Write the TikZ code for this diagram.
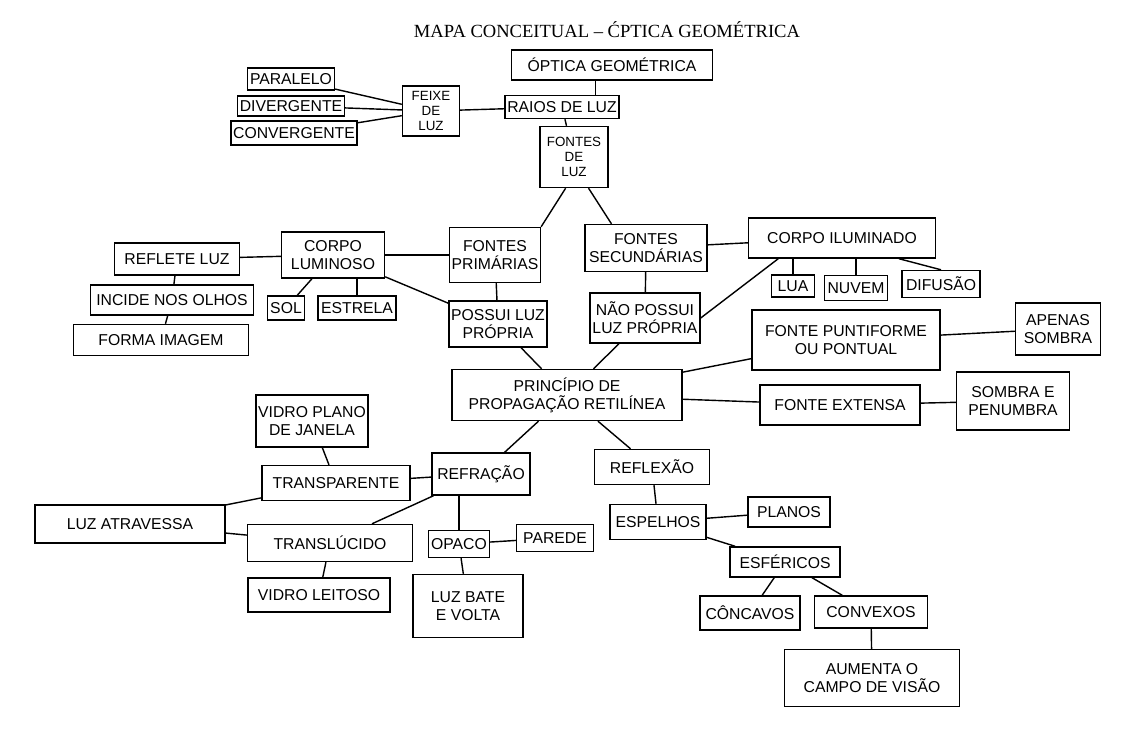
\documentclass[tikz,border=0pt]{standalone}
\usepackage{fontspec}
\setmainfont{Liberation Serif}
\newfontfamily\handfont{Liberation Sans}
\begin{document}
\begin{tikzpicture}[x=0.025cm, y=-0.025cm, line width=1pt,
    box/.style={draw, align=center, inner sep=1.5pt,
        font=\handfont\fontsize{11.2}{13}\selectfont},
    small/.style={font=\handfont\fontsize{9.5}{10.8}\selectfont},
    dim/.style args={#1/#2}{minimum width=#1*0.025cm, minimum height=#2*0.025cm}]
    \useasboundingbox (0,0) rectangle (1130,740);
    \node (titulo) at (607,30) {\fontsize{13.2}{15}\selectfont MAPA CONCEITUAL – ĆPTICA GEOMÉTRICA};

    % topo
    \node[box, dim=201/30] (optica) at (612,65) {ÓPTICA GEOMÉTRICA};
    \node[box, dim=90/23] (raios) at (562,107) {RAIOS DE LUZ};
    \node[box, small, dim=57/50] (feixe) at (431,111) {FEIXE\\DE\\LUZ};
    \node[box, dim=87/22] (paralelo) at (291,79) {PARALELO};
    \node[box, dim=107/20] (divergente) at (291,106) {DIVERGENTE};
    \node[box, dim=124/24] (convergente) at (294,133) {CONVERGENTE};
    \node[box, small, dim=68/61] (fontes) at (574,157) {FONTES\\DE\\LUZ};

    % fontes
    \node[box, dim=90/55] (primarias) at (495,255) {FONTES\\PRIMÁRIAS};
    \node[box, dim=122/47] (secundarias) at (646,248) {FONTES\\SECUNDÁRIAS};
    \node[box, dim=103/46] (luminoso) at (333,255) {CORPO\\LUMINOSO};
    \node[box, dim=125/32] (reflete) at (177,259) {REFLETE LUZ};
    \node[box, dim=163/30] (incide) at (172,300) {INCIDE NOS OLHOS};
    \node[box, dim=175/31] (forma) at (161,340) {FORMA IMAGEM};
    \node[box, dim=37/24] (sol) at (286,308) {SOL};
    \node[box, dim=78/24] (estrela) at (357,308) {ESTRELA};
    \node[box, dim=93/46] (possui) at (498,324) {POSSUI LUZ\\PRÓPRIA};
    \node[box, dim=110/50] (naopossui) at (645,318) {NÃO POSSUI\\LUZ PRÓPRIA};
    \node[box, dim=187/40] (iluminado) at (842,238) {CORPO ILUMINADO};
    \node[box, dim=43/22] (lua) at (793,286) {LUA};
    \node[box, dim=63/25] (nuvem) at (856,288) {NUVEM};
    \node[box, dim=78/27] (difusao) at (941,284) {DIFUSÃO};

    % propagacao
    \node[box, dim=230/51] (principio) at (567,395) {PRINCÍPIO DE\\PROPAGAÇÃO RETILÍNEA};
    \node[box, dim=188/60] (puntiforme) at (846,340) {FONTE PUNTIFORME\\OU PONTUAL};
    \node[box, dim=85/52] (apenas) at (1058,329) {APENAS\\SOMBRA};
    \node[box, dim=160/40] (extensa) at (840,405) {FONTE EXTENSA};
    \node[box, dim=113/58] (penumbra) at (1013,401) {SOMBRA E\\PENUMBRA};

    % refracao
    \node[box, dim=98/42] (refracao) at (481,474) {REFRAÇÃO};
    \node[box, dim=148/35] (transparente) at (336,483) {TRANSPARENTE};
    \node[box, dim=109/52] (vidroplano) at (312,421) {VIDRO PLANO\\DE JANELA};
    \node[box, dim=190/38] (atravessa) at (130,524) {LUZ ATRAVESSA};
    \node[box, dim=165/37] (translucido) at (330,543) {TRANSLÚCIDO};
    \node[box, dim=142/34] (leitoso) at (319,595) {VIDRO LEITOSO};
    \node[box, dim=61/27] (opaco) at (459,544) {OPACO};
    \node[box, dim=77/27] (parede) at (555,538) {PAREDE};
    \node[box, dim=110/63] (bate) at (468,606) {LUZ BATE\\E VOLTA};

    % reflexao
    \node[box, dim=115/35] (reflexao) at (652,467) {REFLEXÃO};
    \node[box, dim=96/35] (espelhos) at (658,522) {ESPELHOS};
    \node[box, dim=82/30] (planos) at (789,512) {PLANOS};
    \node[box, dim=110/30] (esfericos) at (785,562) {ESFÉRICOS};
    \node[box, dim=100/34] (concavos) at (750,613) {CÔNCAVOS};
    \node[box, dim=113/32] (convexos) at (871,612) {CONVEXOS};
    \node[box, dim=175/57] (aumenta) at (872,678) {AUMENTA O\\CAMPO DE VISÃO};

    % ligacoes
    \draw (raios.20) -- (raios.20 |- optica.south);
    \foreach \from/\to in {raios/feixe, feixe/paralelo, feixe/divergente, feixe/convergente,
        raios/fontes, primarias/luminoso, primarias/possui, luminoso/possui,
        luminoso/reflete, reflete/incide, incide/forma, luminoso/sol,
        secundarias/iluminado, secundarias/naopossui, possui/principio, naopossui/principio,
        principio/puntiforme, principio/extensa, puntiforme/apenas, extensa/penumbra,
        principio/refracao, principio/reflexao, refracao/transparente, refracao/translucido,
        transparente/vidroplano, transparente/atravessa, translucido/atravessa,
        translucido/leitoso, opaco/parede, opaco/bate, reflexao/espelhos,
        espelhos/planos, espelhos/esfericos, esfericos/concavos, esfericos/convexos,
        convexos/aumenta}
        \draw (\from) -- (\to);
    \draw (fontes.-105) -- (primarias.north east);
    \draw (fontes.-65) -- (secundarias.145);
    \draw (estrela.north) -- (estrela.north |- luminoso.south);
    \draw (naopossui.east) -- (iluminado.198);
    \draw (lua.north) -- (lua.north |- iluminado.south);
    \draw (nuvem.north) -- (nuvem.north |- iluminado.south);
    \draw (difusao.north) -- (iluminado.-20);
    \draw (opaco.north) -- (opaco.north |- refracao.south);
\end{tikzpicture}
\end{document}
